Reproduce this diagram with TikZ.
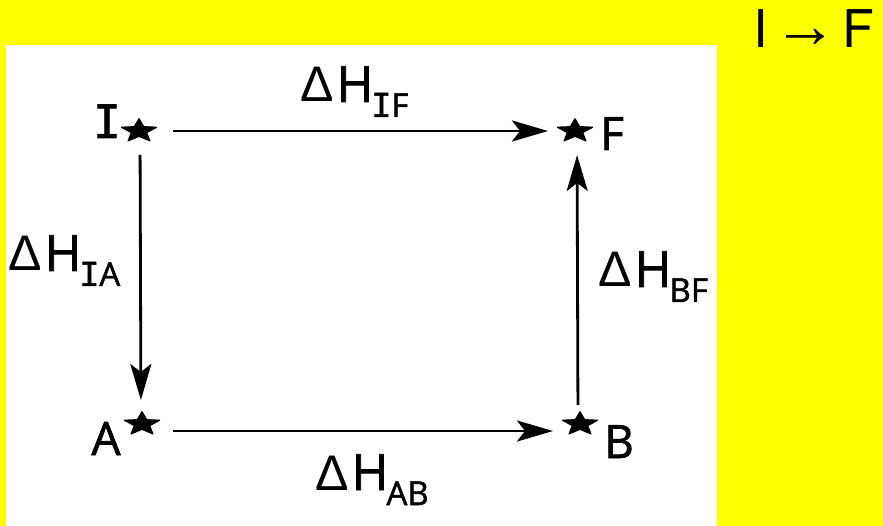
\documentclass[tikz,border=0pt]{standalone}
\usepackage{fontspec}
\setmainfont{Open Sans}[FakeBold=1.5]
\newfontfamily\monoI{DejaVu Sans Mono}[FakeBold=1.5]
\newfontfamily\heros{TeX Gyre Heros}
\newfontfamily\lib{Liberation Sans}
\usetikzlibrary{arrows.meta,shapes.geometric}
\definecolor{yel}{RGB}{255,255,0}
\newcommand\letI{{\monoI I}}
\newcommand\dH[1]{{\lib\fontsize{50}{50}\selectfont Δ}\hspace{3pt}H\hspace{-2pt}\raisebox{-15pt}{\fontsize{33}{33}\selectfont #1}}
\begin{document}
\begin{tikzpicture}[x=1pt,y=-1pt,
  lbl/.style={inner sep=0pt,font=\fontsize{50}{50}\selectfont,anchor=base west},
  letter/.style={inner sep=0pt,font=\fontsize{46}{46}\selectfont,anchor=base},
  st/.style={star,star points=5,star point ratio=2.3,fill=black,draw=black,line join=round,line width=1.2pt,inner sep=0pt,minimum size=37pt,transform shape},
  arr/.style={line width=2.8pt,-{Stealth[length=36pt,width=21pt,inset=8pt]}}]
\fill[yel] (0,0) rectangle (883,526);
\useasboundingbox (0,0) rectangle (883,526);
\fill[white] (6,45) rectangle (717,526);
% title
\node[inner sep=0pt,anchor=base,font=\heros\fontsize{52}{52}\selectfont] (title) at (814,48) {I\hspace{5pt}{\lib\fontsize{64}{64}\selectfont →}\hspace{5pt}F};
% stars
\begin{scope}[shift={(139,131)},yscale=0.66]\node[st] (sI) at (0,0) {};\end{scope}
\begin{scope}[shift={(575,131)},yscale=0.66]\node[st] (sF) at (0,0) {};\end{scope}
\begin{scope}[shift={(142,424)},yscale=0.66]\node[st] (sA) at (0,0) {};\end{scope}
\begin{scope}[shift={(580,424)},yscale=0.66]\node[st] (sB) at (0,0) {};\end{scope}
% letters
\node[letter] (nI) at (107,138) {\letI};
\node[letter] (nF) at (612,150) {F};
\node[letter] (nA) at (106,455) {A};
\node[letter] (nB) at (619,458) {B};
% labels
\node[lbl] (lIF) at (300,102) {\dH{\letI F}};
\node[lbl] (lIA) at (8,271) {\dH{\letI A}};
\node[lbl] (lBF) at (598,287) {\dH{BF}};
\node[lbl] (lAB) at (315,490) {\dH{AB}};
% arrows
\draw[arr,shorten <=34pt,shorten >=27pt] (sI.center) -- (sF.center);
\draw[arr,shorten <=24pt,shorten >=24pt] ([xshift=1pt]sI.center) -- ([xshift=-1pt]sA.center);
\draw[arr,shorten <=19pt,shorten >=24pt] ([xshift=-2pt]sB.center) -- ([xshift=2pt]sF.center);
\draw[arr,shorten <=31pt,shorten >=27pt] ([yshift=-7pt]sA.center) -- ([yshift=-7pt]sB.center);
\end{tikzpicture}
\end{document}
